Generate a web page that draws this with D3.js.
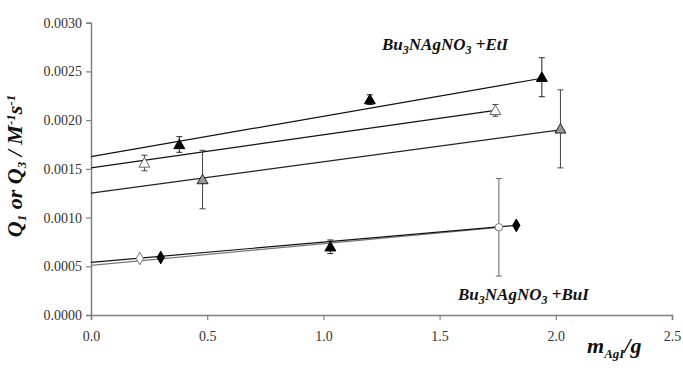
<!DOCTYPE html>
<html>
<head>
<meta charset="utf-8">
<script src="https://cdn.jsdelivr.net/npm/d3@7"></script>
<style>
  body { margin: 0; background: #fff; }
  svg text { font-family: "Times New Roman", "Liberation Serif", Times, "DejaVu Serif", serif; }
</style>
</head>
<body>
<div id="chart"></div>
<script>
// data
const xTicks = [0.0, 0.5, 1.0, 1.5, 2.0, 2.5];
const yTicks = [0.0, 0.0005, 0.001, 0.0015, 0.002, 0.0025, 0.003];

// Bu3NAgNO3 + EtI series
const etiBlackX = [0.38, 1.2, 1.94];
const etiBlackY = [0.00175, 0.00221, 0.00244];
const etiBlackErr = [0.00008, 0.00005, 0.0002];

const etiOpenX = [0.23, 1.74];
const etiOpenY = [0.00156, 0.0021];
const etiOpenErr = [0.00008, 0.00006];

const etiGreyX = [0.48, 2.02];
const etiGreyY = [0.00139, 0.00191];
const etiGreyErr = [0.0003, 0.0004];

// Bu3NAgNO3 + BuI series
const buiOpenX = [0.21, 1.755];
const buiOpenY = [0.00058, 0.0009];
const buiOpenErr = [0, 0.0005];
const buiOpenShape = ["diamond", "circle"];

const buiBlackX = [0.3, 1.03, 1.83];
const buiBlackY = [0.00059, 0.0007, 0.00092];
const buiBlackErr = [0, 0.00007, 0];
const buiBlackShape = ["diamond", "triangle", "diamond"];

// fitted lines: start x, start y, end x, end y
const fitX0 = [0, 0, 0, 0, 0];
const fitY0 = [0.001625, 0.00151, 0.00125, 0.00051, 0.00054];
const fitX1 = [1.94, 1.74, 2.02, 1.755, 1.83];
const fitY1 = [0.00243, 0.0021, 0.0019, 0.0009, 0.00092];
const fitColor = ["#111", "#111", "#222", "#777", "#111"];

const serif = "'Times New Roman', 'Liberation Serif', Times, serif";
const width = 683;
const height = 368;

const x = d3.scaleLinear().domain([0, 2.5]).range([91, 672]);
const y = d3.scaleLinear().domain([0, 0.003]).range([315, 22.7]);

const svg = d3.select("#chart").append("svg")
  .attr("width", width)
  .attr("height", height)
  .style("font-family", serif);

// axes
const xAxis = svg.append("g")
  .attr("transform", `translate(0,${y(0)})`)
  .call(d3.axisBottom(x).tickValues(xTicks).tickFormat(d3.format(".1f")).tickSizeOuter(0).tickSize(5));
const yAxis = svg.append("g")
  .attr("transform", `translate(${x(0)},0)`)
  .call(d3.axisLeft(y).tickValues(yTicks).tickFormat(d3.format(".4f")).tickSizeOuter(0).tickSize(5));

[xAxis, yAxis].forEach((g) => {
  g.attr("font-family", null).attr("font-size", 14);
  g.select(".domain").attr("stroke", "#808080").attr("stroke-width", 1.5);
  g.selectAll(".tick line").attr("stroke", "#808080").attr("stroke-width", 1.2);
  g.selectAll(".tick text").attr("fill", "#333").style("font-family", serif);
});
xAxis.selectAll(".tick text").attr("dy", "1.3em");
yAxis.selectAll(".tick text").attr("x", -9);

// fit lines
svg.selectAll(".fit")
  .data(fitY0)
  .enter()
  .append("line")
  .attr("class", "fit")
  .attr("x1", (d, i) => x(fitX0[i]))
  .attr("y1", (d) => y(d))
  .attr("x2", (d, i) => x(fitX1[i]))
  .attr("y2", (d, i) => y(fitY1[i]))
  .attr("stroke", (d, i) => fitColor[i])
  .attr("stroke-width", 1.2);

// helper for series
function drawSeries(xs, ys, errs, shapes, fill, stroke, errColor) {
  const pts = xs.map((v, i) => ({ x: v, y: ys[i], e: errs[i], s: shapes[i] }));
  const g = svg.append("g");
  pts.filter((d) => d.e > 0).forEach((d) => {
    g.append("line")
      .attr("x1", x(d.x)).attr("x2", x(d.x))
      .attr("y1", y(d.y - d.e)).attr("y2", y(d.y + d.e))
      .attr("stroke", errColor).attr("stroke-width", 1);
    [d.y - d.e, d.y + d.e].forEach((v) => {
      g.append("line")
        .attr("x1", x(d.x) - 3).attr("x2", x(d.x) + 3)
        .attr("y1", y(v)).attr("y2", y(v))
        .attr("stroke", errColor).attr("stroke-width", 1);
    });
  });
  const symbolType = { triangle: d3.symbolTriangle, diamond: d3.symbolDiamond, circle: d3.symbolCircle };
  const symbolSize = { triangle: 52, diamond: 46, circle: 44 };
  g.selectAll("path.mark")
    .data(pts)
    .enter()
    .append("path")
    .attr("class", "mark")
    .attr("transform", (d) => `translate(${x(d.x)},${y(d.y) + (d.s === "triangle" ? 1 : 0)})`)
    .attr("d", (d) => d3.symbol().type(symbolType[d.s]).size(symbolSize[d.s])())
    .attr("fill", fill)
    .attr("stroke", stroke)
    .attr("stroke-width", 1);
}

drawSeries(etiOpenX, etiOpenY, etiOpenErr, ["triangle", "triangle"], "#fff", "#666", "#444");
drawSeries(etiGreyX, etiGreyY, etiGreyErr, ["triangle", "triangle"], "#9a9a9a", "#222", "#444");
drawSeries(etiBlackX, etiBlackY, etiBlackErr, ["triangle", "triangle", "triangle"], "#000", "#000", "#222");
drawSeries(buiOpenX, buiOpenY, buiOpenErr, buiOpenShape, "#fff", "#777", "#666");
drawSeries(buiBlackX, buiBlackY, buiBlackErr, buiBlackShape, "#000", "#000", "#222");

// series labels
function chemLabel(xp, yp, extra) {
  const t = svg.append("text")
    .attr("x", xp).attr("y", yp)
    .style("font-size", "17px")
    .style("font-weight", "bold")
    .style("font-style", "italic")
    .attr("fill", "#111");
  t.append("tspan").text("Bu");
  t.append("tspan").text("3").attr("dy", 4).style("font-size", "12px");
  t.append("tspan").text("NAgNO").attr("dy", -4);
  t.append("tspan").text("3").attr("dy", 4).style("font-size", "12px");
  t.append("tspan").text(" " + extra).attr("dy", -4);
}
chemLabel(382, 50, "+EtI");
chemLabel(458, 300, "+BuI");

// x axis title
const xt = svg.append("text")
  .attr("x", 587).attr("y", 353)
  .style("font-size", "22px")
  .style("font-weight", "bold")
  .style("font-style", "italic")
  .attr("fill", "#111");
xt.append("tspan").text("m");
xt.append("tspan").text("AgI").attr("dy", 5).style("font-size", "13px");
xt.append("tspan").text("/g").attr("dy", -5);

// y axis title
const yt = svg.append("text")
  .attr("transform", "translate(22,166) rotate(-90)")
  .attr("text-anchor", "middle")
  .style("font-size", "22px")
  .style("font-weight", "bold")
  .style("font-style", "italic")
  .attr("fill", "#111");
yt.append("tspan").text("Q");
yt.append("tspan").text("1").attr("dy", 4).style("font-size", "13px");
yt.append("tspan").text(" or Q").attr("dy", -4);
yt.append("tspan").text("3").attr("dy", 4).style("font-size", "13px");
yt.append("tspan").text(" / M").attr("dy", -4);
yt.append("tspan").text("-1").attr("dy", -7).style("font-size", "13px");
yt.append("tspan").text("s").attr("dy", 7);
yt.append("tspan").text("-1").attr("dy", -7).style("font-size", "13px");
</script>
</body>
</html>
